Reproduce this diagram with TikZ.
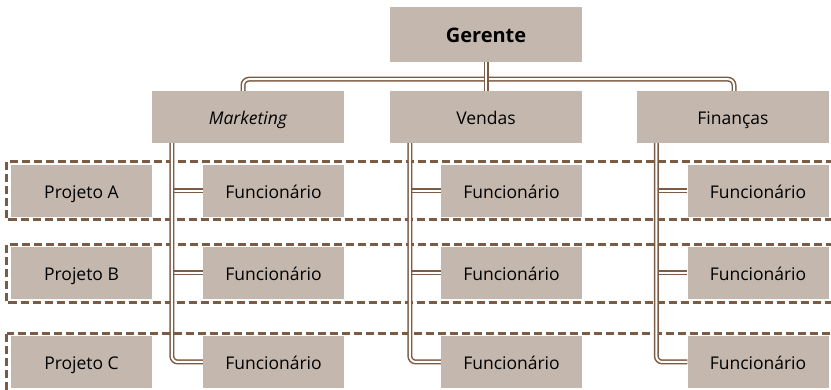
\documentclass[tikz,border=0pt]{standalone}
\usepackage{fontspec}
\setmainfont{Open Sans}
\usetikzlibrary{calc}
\definecolor{boxfill}{HTML}{C4B7AD}
\definecolor{brn}{HTML}{7B5B43}
\tikzset{
  box/.style={fill=boxfill, draw=none, minimum width=141pt, minimum height=52pt, inner sep=0pt, text height=17pt, text depth=1pt, font=\fontsize{17.5}{20}\selectfont},
  topbox/.style={box, minimum width=192pt},
  conn/.style={draw=brn, line width=1.5pt, double=white, double distance=2pt},
  grp/.style={draw=brn, line width=3pt, dash pattern=on 8pt off 4pt}
}
\begin{document}
\begin{tikzpicture}[x=1pt,y=-1pt]
\clip (0,0) rectangle (831,390);
\fill[white] (0,0) rectangle (831,390);
% group frames
\draw[grp] (6.5,162) rectangle (860,220);
\draw[grp] (6.5,245) rectangle (860,303);
\draw[grp] (6.5,334) rectangle (860,420);
% nodes
\node[topbox, minimum height=55pt, text height=17.5pt, text depth=1pt, font=\fontsize{20}{24}\selectfont\bfseries] (ger) at (486,34.5) {Gerente};
\node[topbox] (mkt) at (248,117) {\itshape Marketing};
\node[topbox] (ven) at (486,117) {Vendas};
\node[topbox] (fin) at (733,117) {Finanças};
\node[box] (pa) at (81.5,191) {Projeto A};
\node[box] (pb) at (81.5,273) {Projeto B};
\node[box] (pc) at (81.5,362) {Projeto C};
\node[box] (m1) at (273.5,191) {Funcionário};
\node[box] (m2) at (273.5,273) {Funcionário};
\node[box] (m3) at (273.5,362) {Funcionário};
\node[box] (v1) at (511.5,191) {Funcionário};
\node[box] (v2) at (511.5,273) {Funcionário};
\node[box] (v3) at (511.5,362) {Funcionário};
\node[box] (f1) at (758,191) {Funcionário};
\node[box] (f2) at (758,273) {Funcionário};
\node[box] (f3) at (758,362) {Funcionário};
% connectors
\coordinate (mtop) at ($(mkt.north)+(-5,0)$);
\coordinate (ftop) at ($(fin.north)+(1,0)$);
\coordinate (bus) at ($(ger.south)+(0,17)$);
\draw[conn, rounded corners=6pt] (mtop) |- (bus) -| (ftop);
\draw[conn] (ger.south) -- (ven.north);
\coordinate (mv) at ($(mkt.south west)+(20,0)$);
\coordinate (vv) at ($(ven.south west)+(20,0)$);
\coordinate (fv) at ($(fin.south west)+(19.5,0)$);
\draw[conn] (m1.west) -- (m1.west -| mv);
\draw[conn] (m2.west) -- (m2.west -| mv);
\draw[conn, rounded corners=6pt] (mv) |- (m3.west);
\draw[conn] (v1.west) -- (v1.west -| vv);
\draw[conn] (v2.west) -- (v2.west -| vv);
\draw[conn, rounded corners=6pt] (vv) |- (v3.west);
\draw[conn] (f1.west) -- (f1.west -| fv);
\draw[conn] (f2.west) -- (f2.west -| fv);
\draw[conn, rounded corners=6pt] (fv) |- (f3.west);
\end{tikzpicture}
\end{document}
